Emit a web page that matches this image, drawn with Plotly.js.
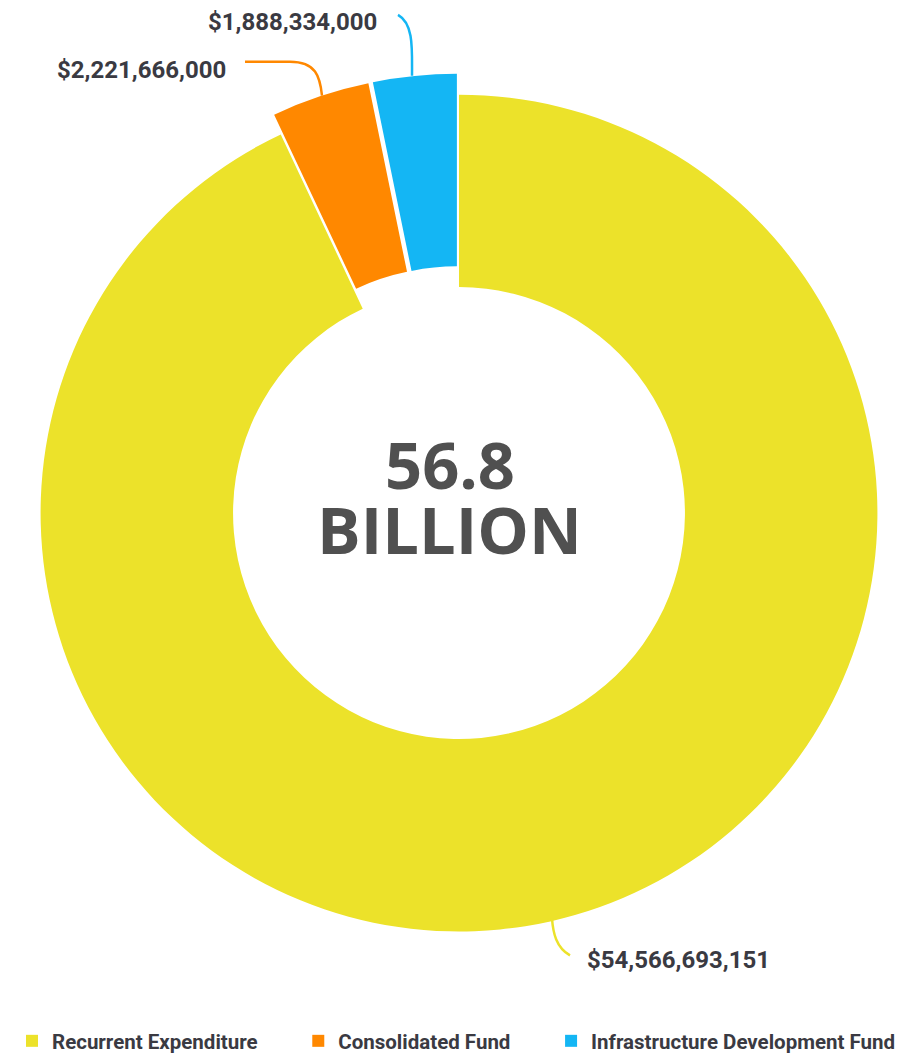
<!DOCTYPE html>
<html>
<head>
<meta charset="utf-8">
<script src="https://cdn.plot.ly/plotly-3.0.1.min.js"></script>
<style>html,body{margin:0;padding:0;background:#fff;}#chart{width:905px;height:1061px;}</style>
</head>
<body>
<div id="chart"></div>
<script>
// Data
const categories = ["Recurrent Expenditure", "Consolidated Fund", "Infrastructure Development Fund"];
const values = [54566693151, 2221666000, 1888334000];
const colors = ["#ECE22A", "#FF8800", "#14B6F4"];
const pulls = [0, 0.05, 0.05];
const centerLine1 = "56.8";
const centerLine2 = "BILLION";

const W = 905, H = 1061;
const px = x => x / W;
const py = y => 1 - y / H;
const fmt = v => "$" + v.toLocaleString("en-US");

// trailing non-breaking spaces widen the legend entries to the reference spacing
const legendPad = "\u00a0".repeat(7);
const legendLabels = categories.map((c, i) => i < categories.length - 1 ? c + legendPad : c);

const labelFont = {family: "Roboto, 'Liberation Sans', sans-serif", size: 24, color: "#3a3a42", weight: 700};

const trace = {
  type: "pie",
  labels: legendLabels,
  values: values,
  marker: {colors: colors, line: {color: "#ffffff", width: 0}},
  hole: 0.54,
  pull: pulls,
  sort: false,
  direction: "clockwise",
  rotation: 0,
  textinfo: "none",
  hoverinfo: "label+value",
  domain: {x: [px(17), px(901)], y: [py(956), py(74)]}
};

// value labels with leader lines
const labelPos = [
  {x: 585, y: 964, anchor: "left"},
  {x: 228, y: 70, anchor: "right"},
  {x: 379, y: 22, anchor: "right"}
];
const leaderPts = [
  [[552, 922], [553, 936], [556, 951], [570, 959]],
  [[245, 62], [290, 62], [316, 62], [320, 77], [322, 96]],
  [[412, 76], [412, 50], [414, 24], [398, 15]]
];
function pathFrom(pts) {
  if (pts.length === 4) {
    return `M ${px(pts[0][0])},${py(pts[0][1])} C ${px(pts[1][0])},${py(pts[1][1])} ${px(pts[2][0])},${py(pts[2][1])} ${px(pts[3][0])},${py(pts[3][1])}`;
  }
  return `M ${px(pts[0][0])},${py(pts[0][1])} L ${px(pts[1][0])},${py(pts[1][1])} C ${px(pts[2][0])},${py(pts[2][1])} ${px(pts[3][0])},${py(pts[3][1])} ${px(pts[4][0])},${py(pts[4][1])}`;
}

const annotations = values.map((v, i) => ({
  text: fmt(v),
  xref: "paper", yref: "paper",
  x: px(labelPos[i].x), y: py(labelPos[i].y),
  xanchor: labelPos[i].anchor, yanchor: "middle",
  showarrow: false,
  font: labelFont
}));
annotations.push({
  text: "<b>" + centerLine1 + "</b>", xref: "paper", yref: "paper",
  x: px(450), y: py(466), xanchor: "center", yanchor: "middle", showarrow: false,
  font: {family: "'Open Sans', sans-serif", size: 65, color: "#505050"}
});
annotations.push({
  text: "<b>" + centerLine2 + "</b>", xref: "paper", yref: "paper",
  x: px(449), y: py(531), xanchor: "center", yanchor: "middle", showarrow: false,
  font: {family: "'Open Sans', sans-serif", size: 65, color: "#505050"}
});

const shapes = leaderPts.map((pts, i) => ({
  type: "path", xref: "paper", yref: "paper",
  path: pathFrom(pts),
  line: {color: colors[i], width: 2.5}
}));

const layout = {
  width: W, height: H,
  margin: {l: 0, r: 0, t: 0, b: 0},
  paper_bgcolor: "#ffffff",
  showlegend: true,
  legend: {
    orientation: "h",
    x: px(12), xanchor: "left",
    y: py(1045), yanchor: "middle",
    font: {family: "Roboto, sans-serif", size: 20.5, color: "#3a3a42", weight: 700},
    itemwidth: 30,
    traceorder: "normal"
  },
  annotations: annotations,
  shapes: shapes
};

Plotly.newPlot("chart", [trace], layout, {displayModeBar: false, staticPlot: true});
</script>
</body>
</html>
